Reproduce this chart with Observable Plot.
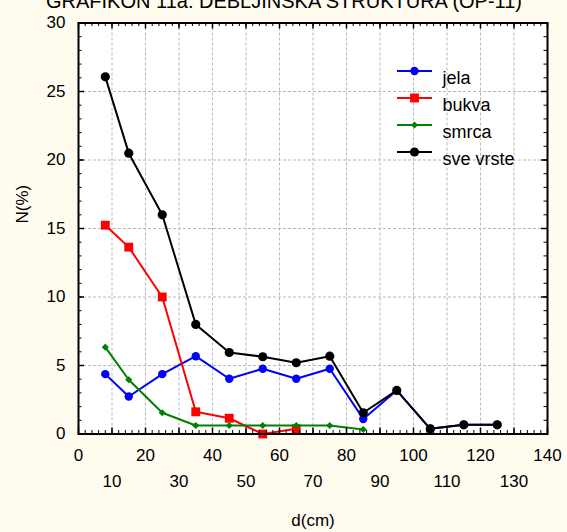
<!DOCTYPE html>
<html><head><meta charset="utf-8">
<script src="https://cdn.jsdelivr.net/npm/d3@7"></script>
<script src="https://cdn.jsdelivr.net/npm/@observablehq/plot@0.6"></script>
<style>
html,body{margin:0;padding:0;background:#FFFBEF;overflow:hidden;}
#chart svg{display:block;}
</style></head><body><div id="chart"></div>
<script>
const title = "GRAFIKON 11a: DEBLJINSKA STRUKTURA (OP-11)";
const xLabel = "d(cm)";
const yLabel = "N(%)";
const diameters = [8, 15, 25, 35, 45, 55, 65, 75, 85, 95, 105, 115, 125];
const jela     = [4.37, 2.74, 4.37, 5.68, 4.03, 4.76, 4.03, 4.76, 1.10, 3.18, 0.38, 0.67, 0.67];
const bukva    = [15.24, 13.64, 10.0, 1.62, 1.15, 0.0, 0.38];
const smrca    = [6.34, 3.96, 1.55, 0.62, 0.62, 0.62, 0.62, 0.62, 0.33];
const sveVrste = [26.07, 20.5, 16.0, 8.0, 5.95, 5.64, 5.2, 5.68, 1.55, 3.18, 0.38, 0.67, 0.67];
const seriesNames = ["jela", "bukva", "smrca", "sve vrste"];
const seriesValues = [jela, bukva, smrca, sveVrste];
const seriesColors = ["#0000FF", "#FF0000", "#008000", "#000000"];
const seriesSymbols = ["circle", "square", "diamond2", "circle"];
const seriesR = [4.2, 5, 3.2, 4.6];
const xTicksRow1 = [0, 20, 40, 60, 80, 100, 120, 140];
const xTicksRow2 = [10, 30, 50, 70, 90, 110, 130];
const yTicks = [0, 5, 10, 15, 20, 25, 30];

const W = 567, H = 532;
const mL = 78, mR = 20, mT = 22.5, mB = 98.5;
const pw = W - mL - mR, ph = H - mT - mB;

const lineSymbol = {draw(ctx) { ctx.moveTo(-17.5, 0); ctx.lineTo(17.5, 0); }};

const marks = [Plot.frame({fill: "white"}),
  Plot.gridX({ticks: d3.range(10, 131, 10), stroke: "#b8b8b8", strokeOpacity: 1, strokeDasharray: "3,2"}),
  Plot.gridY({ticks: d3.range(5, 26, 5), stroke: "#b8b8b8", strokeOpacity: 1, strokeDasharray: "3,2"})
];

seriesNames.forEach((name, s) => {
  const data = seriesValues[s].map((v, i) => ({d: diameters[i], n: v}));
  marks.push(Plot.line(data, {x: "d", y: "n", stroke: seriesColors[s], strokeWidth: 2}));
  marks.push(Plot.dot(data, {x: "d", y: "n", symbol: seriesSymbols[s], r: seriesR[s], fill: seriesColors[s], stroke: "none"}));
});

// legend
seriesNames.forEach((name, s) => {
  const dy = 48 + 27 * s;
  marks.push(Plot.dot([name], {frameAnchor: "top-right", dx: -133, dy, symbol: lineSymbol, stroke: seriesColors[s], strokeWidth: 2, fill: "none"}));
  marks.push(Plot.dot([name], {frameAnchor: "top-right", dx: -133, dy, symbol: seriesSymbols[s], r: seriesR[s], fill: seriesColors[s], stroke: "none"}));
  marks.push(Plot.text([name], {frameAnchor: "top-right", dx: -105, dy, textAnchor: "start", fontSize: 18, fill: "black"}));
});

// inward ticks on all four sides
const xMinor = d3.range(0, 141, 2), xMajor = d3.range(0, 141, 10);
const yMinor = d3.range(0, 31, 1), yMajor = d3.range(0, 31, 5);
const tl = 3.5, TL = 6;
marks.push(
  Plot.tickX(xMinor, {x: d => d, insetTop: ph - tl, stroke: "black"}),
  Plot.tickX(xMajor, {x: d => d, insetTop: ph - TL, stroke: "black", strokeWidth: 1.5}),
  Plot.tickX(xMinor, {x: d => d, insetBottom: ph - tl, stroke: "black"}),
  Plot.tickX(xMajor, {x: d => d, insetBottom: ph - TL, stroke: "black", strokeWidth: 1.5}),
  Plot.tickY(yMinor, {y: d => d, insetRight: pw - tl, stroke: "black"}),
  Plot.tickY(yMajor, {y: d => d, insetRight: pw - TL, stroke: "black", strokeWidth: 1.5}),
  Plot.tickY(yMinor, {y: d => d, insetLeft: pw - tl, stroke: "black"}),
  Plot.tickY(yMajor, {y: d => d, insetLeft: pw - TL, stroke: "black", strokeWidth: 1.5}),
  Plot.frame({stroke: "black", strokeWidth: 2})
);

// axes
marks.push(
  Plot.axisX({ticks: xTicksRow1, tickSize: 0, tickPadding: 15, fontSize: 17, label: null}),
  Plot.axisX({ticks: xTicksRow2, tickSize: 0, tickPadding: 41, fontSize: 17, label: null}),
  Plot.axisY({ticks: yTicks, tickSize: 0, tickPadding: 13, fontSize: 17, label: null}),
  Plot.text([xLabel], {frameAnchor: "bottom", dy: 87, lineAnchor: "middle", fontSize: 17}),
  Plot.text([yLabel], {frameAnchor: "left", dx: -56, dy: -5, rotate: -90, lineAnchor: "middle", fontSize: 17}),
  Plot.text([title], {frameAnchor: "top", dx: (W / 2) - (mL + pw / 2), dy: -15.5, lineAnchor: "bottom", fontSize: 20})
);

const chart = Plot.plot({
  width: W, height: H,
  marginLeft: mL, marginRight: mR, marginTop: mT, marginBottom: mB,
  x: {domain: [0, 140]},
  y: {domain: [0, 30]},
  style: {fontFamily: "'Liberation Sans', Arial, sans-serif", fontSize: "17px", background: "transparent", color: "black"},
  marks
});
document.getElementById("chart").appendChild(chart);
</script></body></html>
